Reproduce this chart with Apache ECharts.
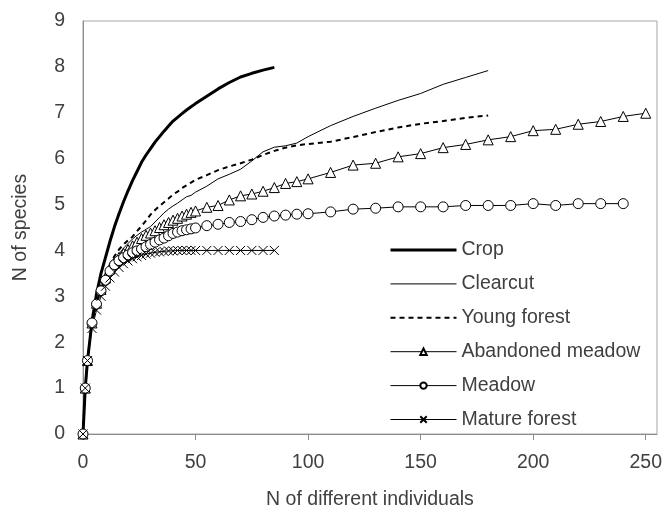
<!DOCTYPE html>
<html><head><meta charset="utf-8">
<script src="https://cdn.jsdelivr.net/npm/echarts@6/dist/echarts.min.js"></script>
<style>html,body{margin:0;padding:0;background:#fff}#c{width:665px;height:515px}</style>
</head><body><div id="c"></div><script>
// x values (N of different individuals)
const earlyN = [0,1,2,4,6,8,10,12,14,16,18,20,22,24,26,28,30,32,34,36,38,40,42,44,46,48,50];
const midN = [55,60,65,70,75,80,85,90,95,100];
const lateN = [110,120,130,140,150,160,170,180,190,200,210,220,230,240,250];

const cropN = earlyN.concat([55,60,65,70,75,80,85]);
const cropS = [0,1,1.6,2.45,3.05,3.5,3.85,4.2,4.52,4.8,5.06,5.3,5.52,5.72,5.92,6.08,6.22,6.36,6.48,6.6,6.71,6.82,6.9,6.98,7.06,7.13,7.2,7.36,7.52,7.66,7.78,7.86,7.93,7.99];

const clearcutN = earlyN.concat(midN, lateN.slice(0, 8));
const clearcutS = [0,1,1.6,2.42,2.85,3.18,3.42,3.62,3.78,3.92,4.05,4.15,4.25,4.33,4.4,4.46,4.52,4.62,4.72,4.82,4.9,4.97,5.03,5.1,5.17,5.2,5.27,
  5.4,5.56,5.66,5.77,5.95,6.15,6.25,6.28,6.34,6.48,
  6.72,6.92,7.1,7.27,7.42,7.62,7.77,7.92];

const youngN = earlyN.concat(midN, lateN.slice(0, 8));
const youngS = [0,1,1.6,2.42,2.85,3.2,3.47,3.7,3.88,4.02,4.13,4.22,4.3,4.42,4.53,4.65,4.78,4.88,4.97,5.05,5.13,5.22,5.28,5.36,5.42,5.48,5.54,
  5.64,5.75,5.83,5.9,5.98,6.08,6.17,6.24,6.29,6.32,
  6.37,6.47,6.58,6.68,6.76,6.82,6.89,6.94];

const abandonedN = earlyN.concat(midN, lateN);
const abandonedS = [0,1,1.6,2.42,2.85,3.15,3.4,3.6,3.75,3.85,3.94,4.02,4.1,4.18,4.26,4.33,4.38,4.43,4.5,4.56,4.61,4.66,4.7,4.75,4.79,4.83,4.86,
  4.94,4.98,5.1,5.19,5.23,5.29,5.37,5.46,5.5,5.56,
  5.7,5.86,5.9,6.04,6.11,6.24,6.31,6.41,6.48,6.61,6.64,6.75,6.81,6.92,6.99];

const meadowN = earlyN.concat(midN, lateN.slice(0, 14));
const meadowS = [0,1,1.6,2.42,2.83,3.12,3.35,3.55,3.69,3.78,3.84,3.9,3.95,3.99,4.03,4.08,4.13,4.18,4.23,4.27,4.32,4.37,4.4,4.43,4.45,4.47,4.49,
  4.54,4.57,4.61,4.63,4.67,4.72,4.75,4.77,4.79,4.8,
  4.84,4.9,4.92,4.95,4.95,4.95,4.98,4.98,4.98,5.02,4.98,5.02,5.02,5.02];

const matureN = earlyN.concat([55,60,65,70,75,80,85]);
const matureS = [0,1,1.6,2.3,2.7,3.0,3.22,3.4,3.53,3.63,3.71,3.77,3.82,3.86,3.89,3.92,3.94,3.96,3.97,3.98,3.99,3.99,4,4,4,4,4,
  4,4,4,4,4,4,4];

const xTicks = [0,50,100,150,200,250];
const yTicks = [0,1,2,3,4,5,6,7,8,9];
const seriesNames = ['Crop','Clearcut','Young forest','Abandoned meadow','Meadow','Mature forest'];

const pairs = (xs, ys) => xs.map((x, i) => [x, ys[i]]);
const FONT = '"Liberation Sans", Arial, sans-serif';
const TXT = '#404040';
const crossPath = 'path://M0,0L10,10M0,10L10,0';
const hidden = {opacity: 0};

const chart = echarts.init(document.getElementById('c'), null, {renderer: 'canvas'});
chart.setOption({
  animation: false,
  backgroundColor: '#fff',
  textStyle: {fontFamily: FONT, color: TXT},
  grid: {left: 83, right: 6, top: 21, bottom: 72, show: true, borderColor: '#a6a6a6', borderWidth: 1},
  legend: {
    orient: 'vertical', left: 384, top: 235,
    itemWidth: 66, itemHeight: 8, itemGap: 13.9,
    textStyle: {fontSize: 19.5, color: TXT, fontFamily: FONT},
    lineStyle: {width: 1},
    data: [
      {name: seriesNames[0], itemStyle: hidden, lineStyle: {width: 3}},
      {name: seriesNames[1], itemStyle: hidden, lineStyle: {width: 1}},
      {name: seriesNames[2], itemStyle: hidden, lineStyle: {width: 2}},
      {name: seriesNames[3]},
      {name: seriesNames[4]},
      {name: seriesNames[5]}
    ]
  },
  xAxis: {
    type: 'value', min: 0, max: 255,
    name: 'N of different individuals', nameLocation: 'middle', nameGap: 56,
    nameTextStyle: {fontSize: 19.5, color: TXT},
    axisLine: {lineStyle: {color: '#8c8c8c', width: 1}},
    axisTick: {show: true, inside: false, length: 6, lineStyle: {color: '#8c8c8c'}, customValues: xTicks},
    axisLabel: {fontSize: 19.5, color: TXT, margin: 19, customValues: xTicks},
    splitLine: {show: false}
  },
  yAxis: {
    type: 'value', min: 0, max: 9, interval: 1,
    name: 'N of species', nameLocation: 'middle', nameGap: 52,
    nameTextStyle: {fontSize: 19.5, color: TXT},
    axisLine: {show: true, lineStyle: {color: '#8c8c8c', width: 1}},
    axisTick: {show: false},
    axisLabel: {fontSize: 19.5, color: TXT, margin: 18, customValues: yTicks},
    splitLine: {show: false}
  },
  series: [
    {name: seriesNames[0], type: 'line', data: pairs(cropN, cropS), symbol: 'none',
     lineStyle: {color: '#000', width: 3}, itemStyle: {color: '#000'}},
    {name: seriesNames[1], type: 'line', data: pairs(clearcutN, clearcutS), symbol: 'none',
     lineStyle: {color: '#000', width: 1}, itemStyle: {color: '#000'}},
    {name: seriesNames[2], type: 'line', data: pairs(youngN, youngS), symbol: 'none',
     lineStyle: {color: '#000', width: 2, type: [5, 4]}, itemStyle: {color: '#000'}},
    {name: seriesNames[3], type: 'line', data: pairs(abandonedN, abandonedS), symbol: 'triangle', symbolSize: 10,
     showAllSymbol: true,
     lineStyle: {color: '#000', width: 1}, itemStyle: {color: '#fff', borderColor: '#000', borderWidth: 1}},
    {name: seriesNames[4], type: 'line', data: pairs(meadowN, meadowS), symbol: 'circle', symbolSize: 10,
     showAllSymbol: true,
     lineStyle: {color: '#000', width: 1}, itemStyle: {color: '#fff', borderColor: '#000', borderWidth: 1}},
    {name: seriesNames[5], type: 'line', data: pairs(matureN, matureS), symbol: crossPath, symbolSize: 9,
     showAllSymbol: true,
     lineStyle: {color: '#000', width: 1}, itemStyle: {color: '#fff', borderColor: '#000', borderWidth: 1}}
  ]
});
</script></body></html>
